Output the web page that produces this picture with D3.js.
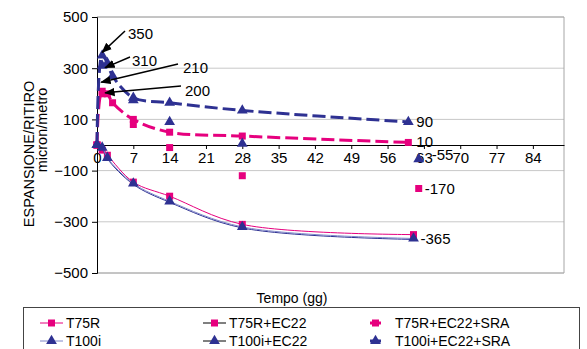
<!DOCTYPE html>
<html>
<head>
<meta charset="utf-8">
<script src="https://cdn.jsdelivr.net/npm/d3@7"></script>
<style>
  html, body { margin: 0; padding: 0; background: #fff; }
  svg { display: block; font-family: "Liberation Sans", Arial, sans-serif; }
</style>
</head>
<body>
<svg id="chart" width="587" height="349"></svg>
<script>
// Days of curing and measured strain (micron/metro) for each mix
const daysT75R   = [0, 1, 2, 7, 14, 28, 61];
const valsT75R   = [0, -20, -40, -145, -200, -310, -350];
const daysT100i  = [0, 1, 2, 7, 14, 28, 61];
const valsT100i  = [0, -10, -50, -150, -220, -320, -365];
const daysT75REC = [0, 1, 7, 14, 28, 62];
const valsT75REC = [0, 200, 80, -10, -120, -170];
const daysT100iEC = [0, 1, 7, 14, 28, 62];
const valsT100iEC = [0, 310, 175, 90, 5, -55];
const daysT75RSRA = [0, 1, 2, 3, 7, 14, 28, 60];
const valsT75RSRA = [0, 210, 200, 165, 100, 50, 35, 10];
const daysT100iSRA = [0, 1, 2, 3, 7, 14, 28, 60];
const valsT100iSRA = [0, 350, 320, 270, 185, 165, 135, 90];

const xTicks = [0, 7, 14, 21, 28, 35, 42, 49, 56, 63, 70, 77, 84];
const yTicks = [500, 300, 100, -100, -300, -500];
const legendNames = ["T75R", "T75R+EC22", "T75R+EC22+SRA", "T100i", "T100i+EC22", "T100i+EC22+SRA"];

const PINK = "#e6007e", NAVY = "#2e3192", LAV = "#7f86c9";

const series = [
  { name: legendNames[0], x: daysT75R, y: valsT75R, line: PINK, width: 1, dash: null, marker: "square", fill: PINK, drawLine: true },
  { name: legendNames[1], x: daysT75REC, y: valsT75REC, line: "#000", width: 1, dash: null, marker: "square", fill: PINK, drawLine: false },
  { name: legendNames[2], x: daysT75RSRA, y: valsT75RSRA, line: PINK, width: 3, dash: "13,5", marker: "square", fill: PINK, drawLine: true },
  { name: legendNames[3], x: daysT100i, y: valsT100i, line: LAV, width: 1, dash: null, marker: "triangle", fill: NAVY, drawLine: true, under: NAVY },
  { name: legendNames[4], x: daysT100iEC, y: valsT100iEC, line: "#000", width: 1, dash: null, marker: "triangle", fill: NAVY, drawLine: false },
  { name: legendNames[5], x: daysT100iSRA, y: valsT100iSRA, line: NAVY, width: 3, dash: "13,5", marker: "triangle", fill: NAVY, drawLine: true }
];

const svg = d3.select("#chart");
const plotL = 97, plotR = 564, plotT = 17, plotB = 273;

const x = d3.scaleLinear().domain([0, 90]).range([plotL, plotR]);
const y = d3.scaleLinear().domain([-500, 500]).range([plotB, plotT]);

// gridlines
svg.append("g").selectAll("line").data(yTicks).join("line")
  .attr("x1", plotL).attr("x2", plotR)
  .attr("y1", d => y(d)).attr("y2", d => y(d))
  .attr("stroke", "#c8c8c8").attr("stroke-width", 1);

// plot frame (top, right, bottom)
svg.append("path")
  .attr("d", `M${plotL},${plotT}H${plotR}V${plotB}H${plotL}`)
  .attr("fill", "none").attr("stroke", "#a6a6a6").attr("stroke-width", 1);

// y axis
const yAxis = d3.axisLeft(y).tickValues(yTicks).tickSize(5).tickPadding(4).tickFormat(d3.format("d"));
const gy = svg.append("g").attr("transform", `translate(${plotL},0)`).call(yAxis);
gy.select(".domain").attr("stroke", "#000");
gy.selectAll(".tick line").attr("stroke", "#000");
gy.selectAll("text").attr("font-size", 15).attr("fill", "#000")
  .attr("font-family", "Liberation Sans, Arial, sans-serif");

// x axis along zero
const xAxis = d3.axisBottom(x).tickValues(xTicks).tickSize(4).tickPadding(3).tickSizeOuter(0);
const gx = svg.append("g").attr("transform", `translate(0,${y(0)})`).call(xAxis);
gx.select(".domain").attr("stroke", "#000");
gx.selectAll(".tick line").attr("stroke", "#000");
gx.selectAll("text").attr("font-size", 15).attr("fill", "#000")
  .attr("font-family", "Liberation Sans, Arial, sans-serif");

// markers
function markerPath(type, size) {
  if (type === "square") return d3.symbol(d3.symbolSquare, size * size)();
  return d3.symbol(d3.symbolTriangle, size * size * 0.62)();
}

const line = d3.line().x(d => x(d[0])).y(d => y(d[1])).curve(d3.curveCatmullRom.alpha(0.5));

const plot = svg.append("g");
series.forEach(s => {
  const pts = s.x.map((d, i) => [d, s.y[i]]);
  if (s.drawLine) {
    if (s.under) {
      plot.append("path").datum(pts).attr("d", line).attr("fill", "none")
        .attr("stroke", s.under).attr("stroke-width", 1).attr("transform", "translate(0,1)");
    }
    plot.append("path").datum(pts).attr("d", line).attr("fill", "none")
      .attr("stroke", s.line).attr("stroke-width", s.width)
      .attr("stroke-dasharray", s.dash);
  }
  plot.append("g").selectAll("path").data(pts).join("path")
    .attr("d", markerPath(s.marker, s.marker === "square" ? 7 : 9))
    .attr("transform", d => `translate(${x(d[0])},${y(d[1])})`)
    .attr("fill", s.fill);
});

// value labels with arrows near the peak
const arrowLabels = [
  { text: "350", day: 1, val: 350, lx: 128, ly: 39, ax: 125, ay: 31, dx: 0, dy: -3 },
  { text: "310", day: 1, val: 310, lx: 132, ly: 66, ax: 130, ay: 57, dx: 3, dy: 2 },
  { text: "210", day: 1, val: 210, lx: 183, ly: 73, ax: 178, ay: 64, dx: -1, dy: -9 },
  { text: "200", day: 1, val: 200, lx: 185, ly: 96, ax: 181, ay: 86, dx: 3, dy: -1 }
];
const defs = svg.append("defs");
defs.append("marker").attr("id", "ah").attr("viewBox", "0 0 10 10")
  .attr("refX", 9).attr("refY", 5).attr("markerWidth", 7).attr("markerHeight", 7)
  .attr("orient", "auto")
  .append("path").attr("d", "M0,1L10,5L0,9z").attr("fill", "#000");

arrowLabels.forEach(a => {
  svg.append("line")
    .attr("x1", a.ax).attr("y1", a.ay)
    .attr("x2", x(a.day) + a.dx).attr("y2", y(a.val) + a.dy)
    .attr("stroke", "#000").attr("stroke-width", 1.5)
    .attr("marker-end", "url(#ah)");
  svg.append("text").attr("x", a.lx).attr("y", a.ly).text(a.text)
    .attr("font-size", 15).attr("fill", "#000");
});

// end-of-series value labels
const endLabels = [
  { s: 5, dx: 8, dy: 5 },
  { s: 2, dx: 8, dy: 5 },
  { s: 4, dx: 13, dy: 1 },
  { s: 1, dx: 6, dy: 5 },
  { s: 3, dx: 7, dy: 6 }
];
endLabels.forEach(e => {
  const s = series[e.s];
  const n = s.x.length - 1;
  svg.append("text")
    .attr("x", x(s.x[n]) + e.dx).attr("y", y(s.y[n]) + e.dy)
    .text(s.y[n]).attr("font-size", 15).attr("fill", "#000");
});

// axis titles
svg.append("text").attr("x", 292).attr("y", 303).attr("text-anchor", "middle")
  .attr("font-size", 14).text("Tempo (gg)");
svg.append("text").attr("transform", "translate(34,154) rotate(-90)")
  .attr("text-anchor", "middle").attr("font-size", 14.5).text("ESPANSIONE/RITIRO");
svg.append("text").attr("transform", "translate(47,130) rotate(-90)")
  .attr("text-anchor", "middle").attr("font-size", 14.5).text("micron/metro");

// legend
const lg = svg.append("g");
lg.append("rect").attr("x", 23.5).attr("y", 307.5).attr("width", 556).attr("height", 60)
  .attr("fill", "#fff").attr("stroke", "#444").attr("stroke-width", 1);
const colX = [40, 203, 370];
const rowY = [323, 341];
series.forEach((s, i) => {
  const cx = colX[i % 3], cy = rowY[Math.floor(i / 3)];
  const isThick = s.width > 1;
  const len = isThick ? 11 : 23;
  const g = lg.append("g");
  g.append("line").attr("x1", cx).attr("x2", cx + len).attr("y1", cy).attr("y2", cy)
    .attr("stroke", s.line).attr("stroke-width", s.width);
  g.append("path").attr("d", markerPath(s.marker, s.marker === "square" ? 7 : 9))
    .attr("transform", `translate(${cx + len / 2},${cy})`).attr("fill", s.fill);
  g.append("text").attr("x", isThick ? cx + 25 : cx + 26).attr("y", cy + 5)
    .attr("font-size", 14).text(s.name);
});
</script>
</body>
</html>
